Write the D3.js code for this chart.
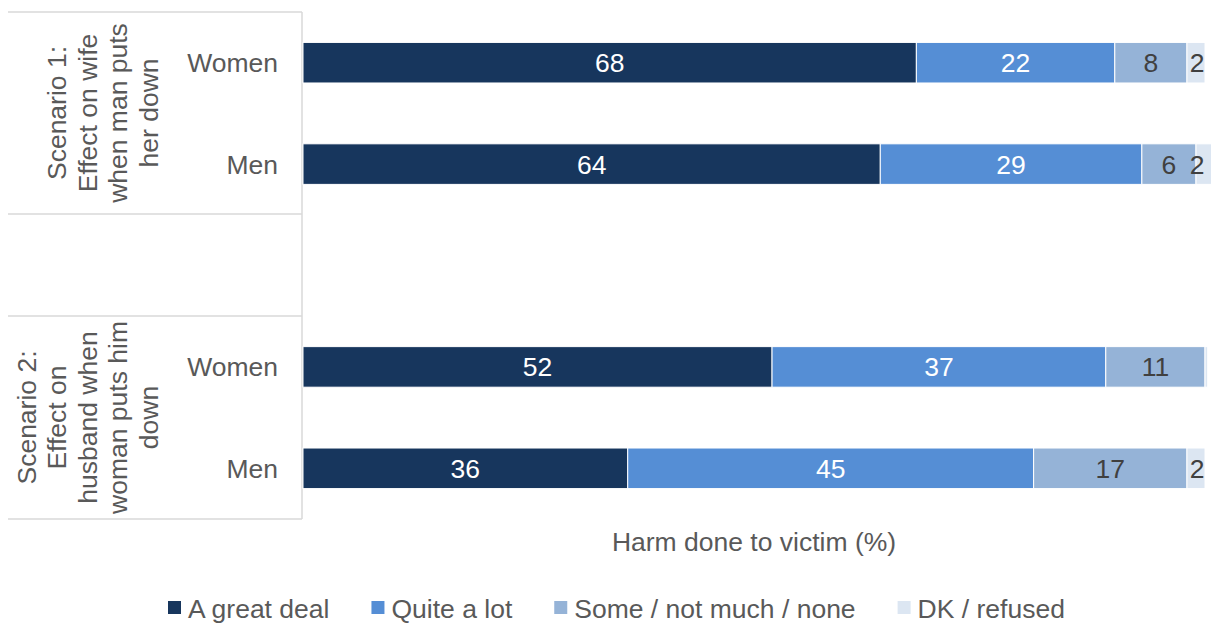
<!DOCTYPE html>
<html><head><meta charset="utf-8">
<script src="https://cdn.jsdelivr.net/npm/d3@7"></script>
<style>
html,body{margin:0;padding:0;background:#fff;}
svg{display:block;font-family:"Liberation Sans",Arial,sans-serif;}
</style></head>
<body>
<svg id="c" width="1211" height="623"></svg>
<script>
// ---- data ----
const scenarioLabels = [
  ["Scenario 1:", "Effect on wife", "when man puts", "her down"],
  ["Scenario 2:", "Effect on", "husband when", "woman puts him", "down"]
];
const respondents = ["Women", "Men"];
const seriesNames = ["A great deal", "Quite a lot", "Some / not much / none", "DK / refused"];
// order of rows: S1 Women, S1 Men, S2 Women, S2 Men
const greatDeal = [68, 64, 52, 36];
const quiteALot = [22, 29, 37, 45];
const someNone  = [8, 6, 11, 17];
const dkRefused = [2, 2, 0.3, 2];
const axisTitle = "Harm done to victim (%)";

// ---- layout ----
const colors = ["#17365D", "#558ED5", "#95B3D7", "#DCE6F2"];
const labelColors = ["#ffffff", "#ffffff", "#404040", "#404040"];
const textColor = "#595959";
const fs = 26.5;

const svg = d3.select("#c");
const rowKeys = ["s1-Women", "s1-Men", "gap", "s2-Women", "s2-Men"];
const y = d3.scaleBand().domain(rowKeys).range([12, 519]).paddingInner(0.6).paddingOuter(0.3);
const x = d3.scaleLinear().domain([0, 100]).range([303, 1205]);

const seriesVals = [greatDeal, quiteALot, someNone, dkRefused];
const rows = [];
[0, 1].forEach(s => respondents.forEach((r, j) => {
  const i = s * 2 + j;
  const obj = { key: "s" + (s + 1) + "-" + r, label: r };
  seriesNames.forEach((n, k) => obj[n] = seriesVals[k][i]);
  rows.push(obj);
}));
const stacked = d3.stack().keys(seriesNames)(rows);

// table lines
const grid = svg.append("g").attr("stroke", "#D9D9D9").attr("stroke-width", 1.5);
[12, 214, 316, 519].forEach(yy => grid.append("line").attr("x1", 8).attr("x2", 302).attr("y1", yy).attr("y2", yy));
grid.append("line").attr("x1", 302).attr("x2", 302).attr("y1", 12).attr("y2", 519);

// bars
stacked.forEach((ser, k) => {
  const g = svg.append("g");
  g.selectAll("rect").data(ser).join("rect")
    .attr("x", d => x(d[0]))
    .attr("y", d => y(d.data.key))
    .attr("width", d => Math.max(0, x(d[1]) - x(d[0])))
    .attr("height", y.bandwidth())
    .attr("fill", colors[k])
    .attr("stroke", "#fff").attr("stroke-width", 1);
  g.selectAll("text").data(ser.filter(d => d[1] - d[0] >= 1)).join("text")
    .attr("x", d => k === 3 ? Math.min((x(d[0]) + x(d[1])) / 2 + 6, 1197) : (x(d[0]) + x(d[1])) / 2)
    .attr("y", d => y(d.data.key) + y.bandwidth() / 2)
    .attr("dy", "0.36em")
    .attr("text-anchor", "middle")
    .attr("font-size", fs)
    .attr("fill", labelColors[k])
    .text(d => Math.round(d[1] - d[0]));
});

// category labels
svg.append("g").selectAll("text").data(rows).join("text")
  .attr("x", 278).attr("y", d => y(d.key) + y.bandwidth() / 2)
  .attr("dy", "0.36em").attr("text-anchor", "end")
  .attr("font-size", fs).attr("fill", textColor)
  .text(d => d.label);

// scenario labels (rotated)
const groupCenters = [(12 + 214) / 2, (316 + 519) / 2];
scenarioLabels.forEach((lines, s) => {
  const n = lines.length;
  lines.forEach((ln, i) => {
    const cx = 148 - (n - 1 - i) * 30.5;
    svg.append("text")
      .attr("transform", `translate(${cx},${groupCenters[s]}) rotate(-90)`)
      .attr("text-anchor", "middle").attr("dy", "0.36em")
      .attr("font-size", fs).attr("fill", textColor)
      .text(ln);
  });
});

// axis title
svg.append("text").attr("x", (x(0) + x(100)) / 2).attr("y", 541).attr("dy", "0.36em")
  .attr("text-anchor", "middle").attr("font-size", fs).attr("fill", textColor).text(axisTitle);

// legend
const leg = svg.append("g");
let lx = 168;
seriesNames.forEach((n, k) => {
  leg.append("rect").attr("x", lx).attr("y", 601).attr("width", 13).attr("height", 13).attr("fill", colors[k]);
  const t = leg.append("text").attr("x", lx + 20).attr("y", 608).attr("dy", "0.36em")
    .attr("font-size", fs).attr("fill", textColor).text(n);
  lx += 20 + t.node().getComputedTextLength() + 42;
});
</script>
</body></html>
